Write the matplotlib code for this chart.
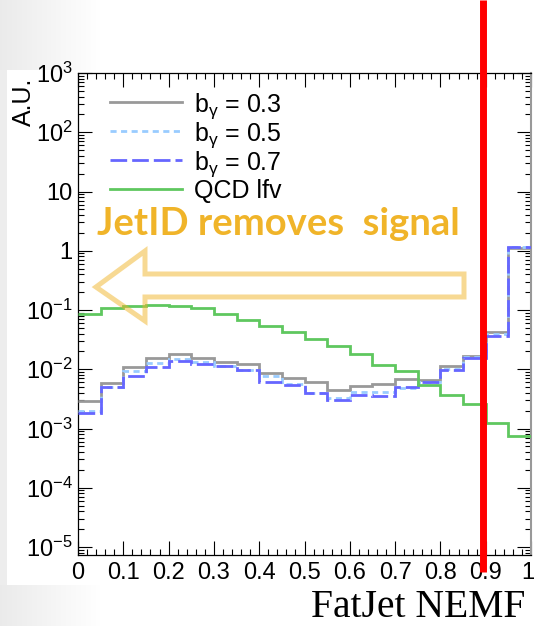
import numpy as np
import matplotlib
matplotlib.use("Agg")
import matplotlib.pyplot as plt
from matplotlib.lines import Line2D
from matplotlib.patches import Polygon
from matplotlib import transforms
from matplotlib.ticker import FixedLocator, MultipleLocator, NullFormatter

# ---------------- data ----------------
bin_edges = [0.0, 0.05, 0.1, 0.15, 0.2, 0.25, 0.3, 0.35, 0.4, 0.45, 0.5,
             0.55, 0.6, 0.65, 0.7, 0.75, 0.8, 0.85, 0.9, 0.95, 1.0]
qcd_lfv = [0.086, 0.108, 0.118, 0.123, 0.118, 0.108, 0.086, 0.068, 0.054, 0.043,
           0.032, 0.025, 0.0183, 0.0119, 0.0095, 0.0055, 0.0037, 0.0026, 0.00126, 0.00074]
b_03 = [0.00286, 0.00584, 0.0109, 0.0155, 0.0180, 0.0155, 0.0132, 0.0121, 0.0086, 0.0071,
        0.0061, 0.0045, 0.0053, 0.0057, 0.0068, 0.0067, 0.0115, 0.0169, 0.042, 1.12]
b_05 = [0.00194, 0.0051, 0.0092, 0.0127, 0.0149, 0.0132, 0.0115, 0.0098, 0.0076, 0.0057,
        0.0040, 0.0033, 0.0042, 0.0042, 0.0048, 0.0062, 0.0101, 0.0164, 0.040, 1.14]
b_07 = [0.00182, 0.0050, 0.0078, 0.0109, 0.0136, 0.0124, 0.0112, 0.0098, 0.0062, 0.0055,
        0.0039, 0.0030, 0.0037, 0.0035, 0.0051, 0.0062, 0.0098, 0.0155, 0.0367, 1.15]
labels = [r"b$_{\mathrm{γ}}$ = 0.3", r"b$_{\mathrm{γ}}$ = 0.5", r"b$_{\mathrm{γ}}$ = 0.7", "QCD lfv"]
x_ticks = [0, 0.1, 0.2, 0.3, 0.4, 0.5, 0.6, 0.7, 0.8, 0.9, 1.0]
x_ticklabels = ["0", "0.1", "0.2", "0.3", "0.4", "0.5", "0.6", "0.7", "0.8", "0.9", "1"]
y_ticks = [1e-5, 1e-4, 1e-3, 1e-2, 1e-1, 1, 10, 100, 1000]
y_ticklabels = [r"$10^{-5}$", r"$10^{-4}$", r"$10^{-3}$", r"$10^{-2}$", r"$10^{-1}$",
                "1", "10", r"$10^{2}$", r"$10^{3}$"]
cut_x = 0.893
annotation = "JetID removes  signal"

# ---------------- style ----------------
plt.rcParams["font.family"] = ["Liberation Sans", "DejaVu Sans"]
plt.rcParams["mathtext.fontset"] = "custom"
plt.rcParams["mathtext.rm"] = "Liberation Sans"
plt.rcParams["mathtext.it"] = "Liberation Sans:italic"
plt.rcParams["mathtext.bf"] = "Liberation Sans:bold"

colors = ["#999999", "#99ccff", "#6666ff", "#5fc75f"]
styles = ["-", (0, (2.2, 1.6)), (0, (6, 1.8)), "-"]
LW = 2.0

W, H = 536, 626
fig = plt.figure(figsize=(W / 100, H / 100), dpi=100)

# slide background (card with grey margin on the left)
bg = np.ones((H, W, 3))
xs = np.arange(W)
grad = 0.92 + 0.08 * np.clip(xs / 100.0, 0, 1)
bg[:70, :, :] = grad[None, :, None]
bg[585:, :, :] = grad[None, :, None]
bg[70:585, :7, :] = 0.93
fig.figimage(bg, 0, 0, zorder=-10, origin="upper")

ax = fig.add_axes([78 / W, 1 - 555 / H, 453 / W, 482 / H])
ax.set_facecolor("white")

for vals, c, ls, z in zip([b_03, b_05, b_07, qcd_lfv], colors, styles, [3, 4, 5, 6]):
    ax.stairs(vals, bin_edges, color=c, lw=LW, linestyle=ls, baseline=None, zorder=z)

ax.set_yscale("log")
ax.set_xlim(0, 1)
ax.set_ylim(10 ** -5.135, 1e3)

ax.xaxis.set_major_locator(FixedLocator(x_ticks))
ax.set_xticklabels(x_ticklabels)
ax.xaxis.set_minor_locator(MultipleLocator(0.02))
ax.yaxis.set_major_locator(FixedLocator(y_ticks))
ax.set_yticklabels(y_ticklabels)
minor_y = [m * 10.0 ** e for e in range(-6, 3) for m in range(2, 10)]
ax.yaxis.set_minor_locator(FixedLocator(minor_y))
ax.yaxis.set_minor_formatter(NullFormatter())

ax.tick_params(which="both", direction="in", top=True, right=True, width=0.8, color="black")
ax.tick_params(which="major", length=10, labelsize=17)
ax.tick_params(which="minor", length=4.5)
ax.tick_params(axis="x", which="major", pad=5)
ax.tick_params(axis="y", which="major", pad=4)
for s in ax.spines.values():
    s.set_linewidth(0.9)
ax.spines["right"].set_color("#999999")
ax.spines["right"].set_linewidth(1.5)

# keep the last x tick label ("1") inside the picture
last = ax.get_xticklabels()[-1]
last.set_transform(last.get_transform() + transforms.ScaledTranslation(-3 / 100, 0, fig.dpi_scale_trans))

# legend (drawn manually, in axes fractions)
row_px = [101.5, 130.5, 159.5, 188.5]
for lab, c, ls, yp in zip(labels, colors, styles, row_px):
    yf = (555 - yp) / 482
    ax.add_line(Line2D([(110 - 78) / 453, (182 - 78) / 453], [yf, yf], transform=ax.transAxes,
                       color=c, lw=LW, linestyle=ls, zorder=9))
    ax.text((194 - 78) / 453, yf, lab, transform=ax.transAxes, fontsize=18,
            ha="left", va="center_baseline", zorder=9)

# annotation text and hollow arrow
ax.text((97 - 78) / 453, (555 - 235) / 482, annotation, transform=ax.transAxes,
        family=["Lato", "DejaVu Sans"], fontweight="bold", fontsize=27.5, color="#F0B429",
        ha="left", va="baseline", zorder=8)
arrow_pts = [(0.0397, 0.556), (0.1479, 0.6307), (0.1479, 0.5830), (0.8521, 0.5830),
             (0.8521, 0.5353), (0.1479, 0.5353), (0.1479, 0.4855)]
ax.add_patch(Polygon(arrow_pts, closed=True, transform=ax.transAxes, facecolor="none",
                     edgecolor="#F0B429", alpha=0.5, lw=3.6, joinstyle="miter", zorder=7))

# cut line (extends beyond the frame)
trans = transforms.blended_transform_factory(ax.transData, fig.transFigure)
fig.add_artist(Line2D([cut_x, cut_x], [1 - 572 / H, 1.0], transform=trans,
                      color="#ff0000", lw=5.0, solid_capstyle="butt", zorder=10))

# axis titles
fig.text(24 / W, 1 - 78 / H, "A.U.", rotation=90, ha="center", va="top", fontsize=18)
fig.text(525 / W, 1 - 617 / H, "FatJet NEMF", ha="right", va="baseline",
         family=["Liberation Serif", "DejaVu Serif"], fontsize=28.5)

fig.savefig("out.png", dpi=100)
